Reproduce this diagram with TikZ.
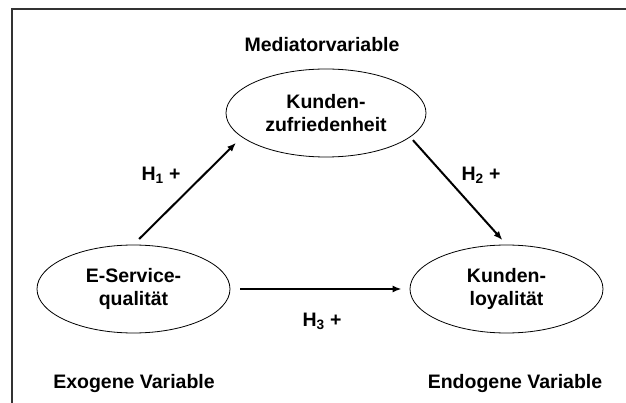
\documentclass[tikz,border=0pt]{standalone}
\usepackage{fontspec}
\setmainfont{Liberation Sans}
\usetikzlibrary{arrows.meta,shapes.geometric}

\newcommand\MYwidth{626}
\newcommand\MYheight{403}
\newcommand\MYfont{\fontsize{19.5}{23}\selectfont\bfseries}

\definecolor{framegray}{RGB}{51,51,51}

\tikzset{
  latent/.style={ellipse, draw, line width=0.8pt, minimum width=193pt,
    minimum height=88pt, inner sep=0pt, align=center, font=\MYfont},
  label/.style={font=\MYfont, inner sep=0pt},
  path/.style={line width=2pt, -{Latex[length=9pt,width=7pt]}}
}

\begin{document}
\begin{tikzpicture}[x=1pt,y=-1pt]
\useasboundingbox (0,0) rectangle (\MYwidth,\MYheight);

\coordinate (TR) at (\MYwidth,9);
\coordinate (TL) at (12,9);
\coordinate (BL) at (12,\MYheight);

 \draw[line width=1.5pt, color=framegray] (TR) -- (TL) -- (BL);

\node[latent, minimum width=200pt] (KZ) at (326,113) {Kunden-\\zufriedenheit};
\node[latent] (ESQ) at (133.5,289) {E-Service-\\qualität};
\node[latent] (KL) at (506.5,289) {Kunden-\\loyalität};

\draw (322,45) node[label] (MV) {Mediatorvariable};
\draw (134,383) node[label] (EXO) {Exogene Variable};
\draw (515,383) node[label] (ENDO) {Endogene Variable};

 \draw[path, shorten <=8pt, shorten >=8pt] (ESQ.north) -- (KZ.196);
 \draw[path, shorten <=4pt, shorten >=6pt] (KZ.344) -- (KL.north);
 \draw[path, shorten <=10pt, shorten >=8pt] (ESQ.east) -- (KL.west);

\draw (161,175) node[label] (H1) {H\textsubscript{1} +};
\draw (481,175) node[label] (H2) {H\textsubscript{2} +};
\draw (322,321) node[label] (H3) {H\textsubscript{3} +};

\end{tikzpicture}
\end{document}
